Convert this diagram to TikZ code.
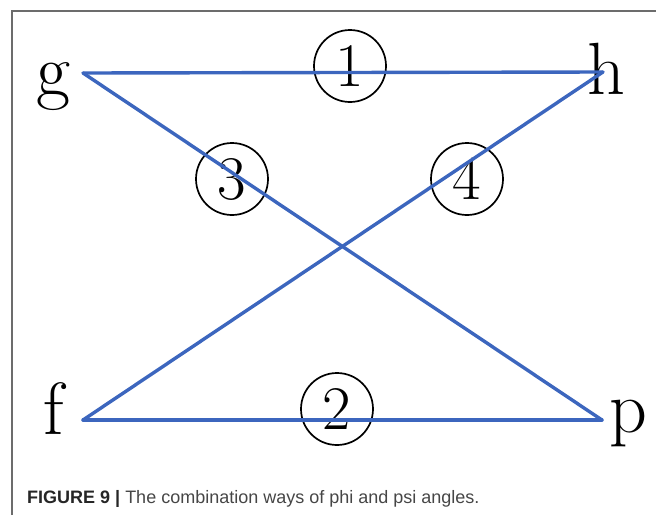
\documentclass[tikz,border=0pt]{standalone}
\usepackage{fontspec}
\newfontfamily\capfont{Liberation Sans}
\usepackage{tikz}
\usetikzlibrary{positioning,shapes}

\definecolor{lineblue}{RGB}{60,102,190}
\definecolor{capgray}{RGB}{70,70,70}

\tikzset{
  vlabel/.style={anchor=base,inner sep=0pt,font=\fontsize{74}{74}\selectfont},
  numcirc/.style={draw,circle,line width=1.7pt,minimum size=72pt,inner sep=0pt,
    font=\fontsize{62}{62}\selectfont},
  edge/.style={draw=lineblue,line width=3.4pt,line cap=round,line join=round}
}

\begin{document}
\begin{tikzpicture}[x=1pt,y=-1pt]
\useasboundingbox (0,0) rectangle (656,515);
\draw[gray!85!black,line width=1.3pt] (12,515) -- (12,11) -- (656,11);
% end points of the lines
\coordinate (g) at (83,73);
\coordinate (h) at (603,72);
\coordinate (f) at (83,420);
\coordinate (p) at (602,420);
% letters
\node[vlabel] (lg) at (53,95) {g};
\node[vlabel] (lh) at (606,94) {h};
\node[vlabel] (lf) at (54,434) {f};
\node[vlabel] (lp) at (628,432) {p};
% circled numbers
\node[numcirc] (c1) at (350,66) {1};
\node[numcirc] (c2) at (337,409) {2};
\node[numcirc] (c3) at (232,179) {3};
\node[numcirc] (c4) at (467,179) {4};
\draw[edge] (g) -- (h);
\draw[edge] (f) -- (p);
\draw[edge] (g) -- (p);
\draw[edge] (f) -- (h);
\node[anchor=base west,inner sep=0pt,text=capgray,font=\capfont\fontsize{18}{18}\selectfont] (cap) at (27,503)
  {\textcolor{black!85}{\textbf{FIGURE 9 |}} The combination ways of phi and psi angles.};
\end{tikzpicture}
\end{document}
